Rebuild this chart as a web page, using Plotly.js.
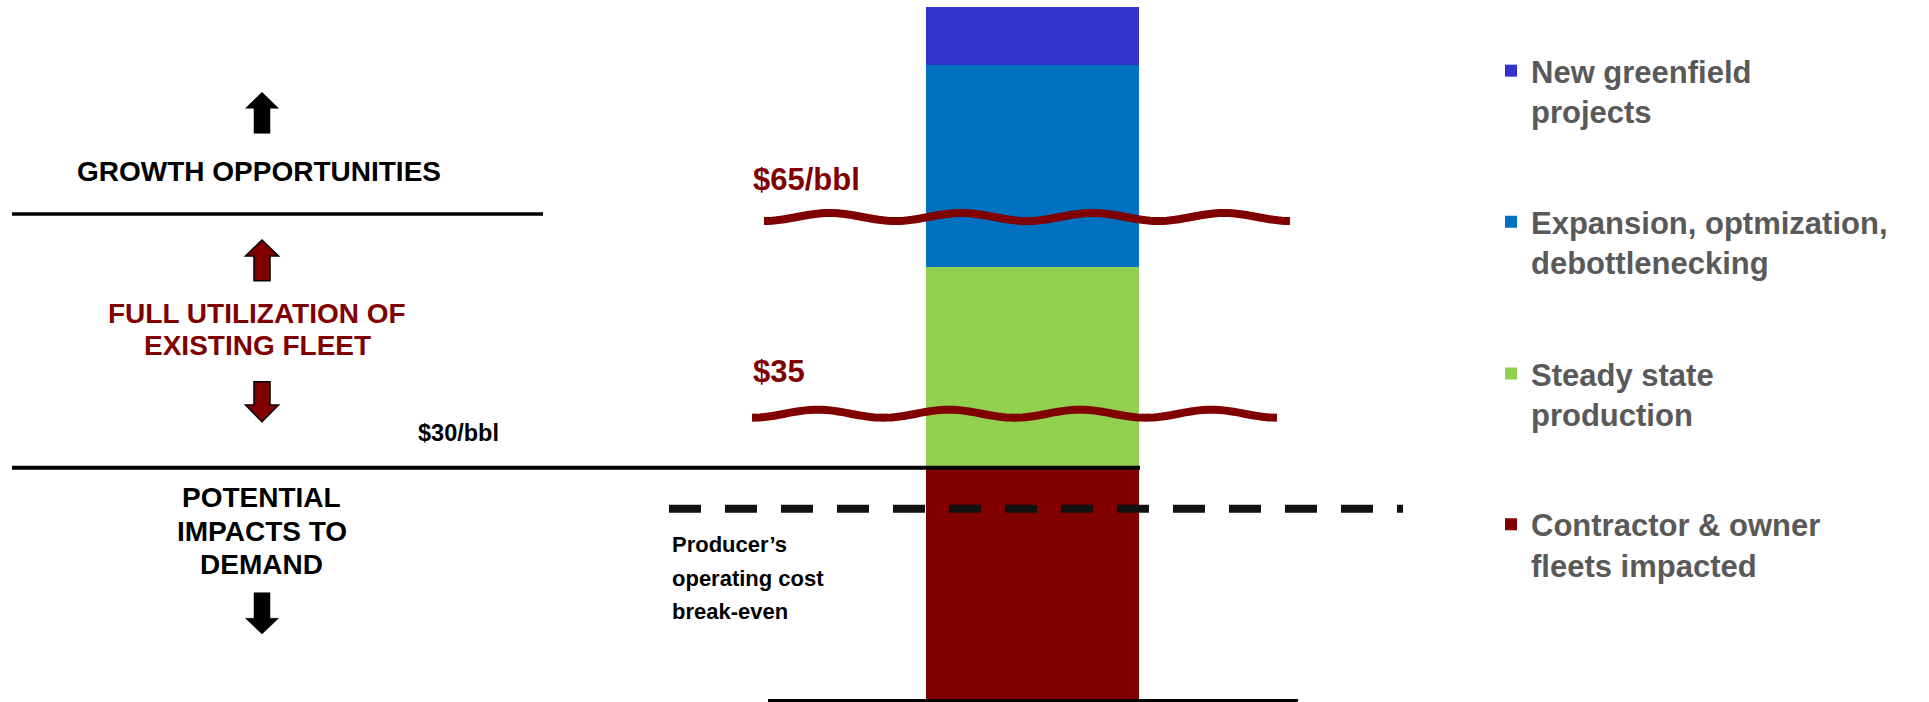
<!DOCTYPE html>
<html>
<head>
<meta charset="utf-8">
<script src="https://cdn.plot.ly/plotly-3.0.1.min.js"></script>
<style>html,body{margin:0;padding:0;background:#fff;}#chart{width:1929px;height:702px;}</style>
</head>
<body>
<div id="chart"></div>
<script>
// ---- data ----
const category = ['Fleet capacity'];
const seriesNames = [
  'Contractor & owner<br>fleets impacted',
  'Steady state<br>production',
  'Expansion, optmization,<br>debottlenecking',
  'New greenfield<br>projects'
];
const seriesValues = [23.2, 20.1, 20.2, 5.8];
const seriesColors = ['#800000', '#92D050', '#0070C0', '#3333CC'];
const priceLabels = ['$65/bbl', '$35', '$30/bbl'];
const zoneLabels = ['GROWTH OPPORTUNITIES', 'FULL UTILIZATION OF', 'EXISTING FLEET', 'POTENTIAL', 'IMPACTS TO', 'DEMAND'];
const breakEvenLines = ['Producer\u2019s', 'operating cost', 'break-even'];

// ---- layout helpers (pixel -> paper) ----
const W = 1929, H = 702;
const px = x => x / W;
const py = y => 1 - y / H;
const SANS = 'Liberation Sans, Arial, sans-serif';
const DARKRED = '#800000';

const total = seriesValues.reduce((a, b) => a + b, 0);

const legendIds = ['legend4', 'legend3', 'legend2', 'legend'];
const traces = seriesValues.map((v, i) => ({
  type: 'bar',
  x: category,
  y: [v],
  name: seriesNames[i],
  marker: {color: seriesColors[i], line: {width: 0}},
  legend: legendIds[i],
  hoverinfo: 'name'
}));

function wavePath(x0, x1, yc, amp, periods) {
  const n = periods * 32;
  let s = '';
  for (let i = 0; i <= n; i++) {
    const x = x0 + (x1 - x0) * i / n;
    const y = yc + amp * Math.cos(2 * Math.PI * periods * i / n);
    s += (i ? ' L' : 'M') + px(x).toFixed(5) + ',' + py(y).toFixed(5);
  }
  return s;
}
function arrowPath(cx, yTip, yBase, yEnd, headW, shaftW) {
  const pts = [
    [cx, yTip], [cx + headW / 2, yBase], [cx + shaftW / 2, yBase], [cx + shaftW / 2, yEnd],
    [cx - shaftW / 2, yEnd], [cx - shaftW / 2, yBase], [cx - headW / 2, yBase]
  ];
  return pts.map((p, i) => (i ? 'L' : 'M') + px(p[0]).toFixed(5) + ',' + py(p[1]).toFixed(5)).join(' ') + ' Z';
}
function hline(x0, x1, y, w, dash, color) {
  return {type: 'line', xref: 'paper', yref: 'paper', x0: px(x0), x1: px(x1), y0: py(y), y1: py(y),
    line: {color: color || '#000', width: w, dash: dash || 'solid'}};
}

const shapes = [
  hline(12, 543, 214, 3.5),
  hline(12, 1140, 467.7, 4),
  hline(768, 1298, 700.5, 3),
  hline(669, 1403, 508.7, 8, '32px,24px', '#111'),
  {type: 'path', xref: 'paper', yref: 'paper', path: wavePath(764, 1290, 217, 4, 4), line: {color: DARKRED, width: 8}, fillcolor: 'rgba(0,0,0,0)'},
  {type: 'path', xref: 'paper', yref: 'paper', path: wavePath(752, 1277, 413.7, 4, 4), line: {color: DARKRED, width: 8}, fillcolor: 'rgba(0,0,0,0)'},
  {type: 'path', xref: 'paper', yref: 'paper', path: arrowPath(262, 92.3, 108.3, 133.3, 33, 16), fillcolor: '#000', line: {color: '#000', width: 0.5}},
  {type: 'path', xref: 'paper', yref: 'paper', path: arrowPath(262, 240, 256, 280.7, 33, 16), fillcolor: DARKRED, line: {color: '#000', width: 1.5}},
  {type: 'path', xref: 'paper', yref: 'paper', path: arrowPath(262, 421.7, 405, 381.7, 33, 16), fillcolor: DARKRED, line: {color: '#000', width: 1.5}},
  {type: 'path', xref: 'paper', yref: 'paper', path: arrowPath(262, 634, 618.3, 592.7, 33, 16), fillcolor: '#000', line: {color: '#000', width: 0.5}}
];

function ann(text, x, y, size, color, xanchor) {
  return {text: text, xref: 'paper', yref: 'paper', x: px(x), y: py(y), xanchor: xanchor || 'center', yanchor: 'middle',
    showarrow: false, font: {family: SANS, size: size, color: color, weight: 'bold'}};
}
const annotations = [
  ann(zoneLabels[0], 259, 171.7, 28, '#000'),
  ann(zoneLabels[1], 257, 313, 28, DARKRED),
  ann(zoneLabels[2], 257, 346, 28, DARKRED),
  ann(priceLabels[2], 458, 433, 23.5, '#000'),
  ann(zoneLabels[3], 261.6, 497, 28, '#000'),
  ann(zoneLabels[4], 261.6, 531.7, 28, '#000'),
  ann(zoneLabels[5], 261.6, 564, 28, '#000'),
  ann(priceLabels[0], 750.7, 179, 31, DARKRED, 'left'),
  ann(priceLabels[1], 750.7, 371, 31, DARKRED, 'left'),
  ann(breakEvenLines[0], 670, 544.5, 22, '#000', 'left'),
  ann(breakEvenLines[1], 670, 578.8, 22, '#000', 'left'),
  ann(breakEvenLines[2], 670, 611.2, 22, '#000', 'left')
];

function legendAt(topY) {
  return {x: px(1491), xanchor: 'left', y: py(topY), yanchor: 'top', valign: 'top',
    bgcolor: 'rgba(0,0,0,0)', borderwidth: 0,
    font: {family: SANS, size: 31, color: '#595959', weight: 'bold'}};
}

const layout = {
  width: W, height: H,
  margin: {l: 0, r: 0, t: 0, b: 0},
  paper_bgcolor: '#fff', plot_bgcolor: 'rgba(0,0,0,0)',
  barmode: 'stack', bargap: 0,
  showlegend: true,
  xaxis: {type: 'category', domain: [px(926), px(1139)], range: [-0.5, 0.5], visible: false, fixedrange: true},
  yaxis: {domain: [py(699.3), py(7)], range: [0, total], visible: false, fixedrange: true},
  legend: legendAt(72.5 - 28.5),
  legend2: legendAt(223.7 - 28.5),
  legend3: legendAt(375.3 - 28.5),
  legend4: legendAt(526 - 28.5),
  shapes: shapes,
  annotations: annotations
};

Plotly.newPlot('chart', traces, layout, {staticPlot: true, displayModeBar: false});
</script>
</body>
</html>
